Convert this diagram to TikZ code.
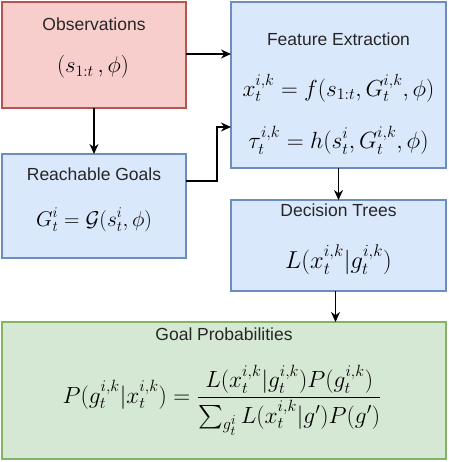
\documentclass[tikz,border=0pt]{standalone}
\usepackage{amsmath}
\usepackage{graphicx}
\usepackage{fontspec}
\setmainfont{Liberation Sans}
\usetikzlibrary{arrows.meta,calc}
\definecolor{pinkfill}{HTML}{F8CECC}
\definecolor{pinkdraw}{HTML}{B85450}
\definecolor{bluefill}{HTML}{DAE8FC}
\definecolor{bluedraw}{HTML}{6C8EBF}
\definecolor{greenfill}{HTML}{D5E8D4}
\definecolor{greendraw}{HTML}{82B366}
\newcommand{\eqbox}[2]{\scalebox{#1}{$\displaystyle #2$}}
\tikzset{
  box/.style={draw, line width=1.2pt, inner sep=0pt, outer sep=0pt},
  pinkbox/.style={box, fill=pinkfill, draw=pinkdraw},
  bluebox/.style={box, fill=bluefill, draw=bluedraw},
  greenbox/.style={box, fill=greenfill, draw=greendraw},
  title/.style={inner sep=0pt, font=\fontsize{17.5}{20}\selectfont, text=black!85},
  eq/.style={inner sep=0pt, font=\fontsize{20.74}{25}\selectfont},
  arr/.style={line width=1.5pt, -{Stealth[length=10pt,width=9pt]}},
}
\begin{document}
\begin{tikzpicture}[x=1pt,y=-1pt]
\useasboundingbox (0,0) rectangle (448,462);
% boxes
\node[pinkbox, minimum width=184pt, minimum height=106pt] (obs) at (94,55) {};
\node[bluebox, minimum width=184pt, minimum height=104pt] (rg) at (94,206) {};
\node[bluebox, minimum width=215pt, minimum height=166pt] (fe) at (338.5,85) {};
\node[bluebox, minimum width=215pt, minimum height=91pt] (dt) at (338.5,245.5) {};
\node[greenbox, minimum width=444pt, minimum height=137pt] (gp) at (224,390.5) {};
% texts
\node[title] (obst) at (94,24) {Observations};
\node[eq] (obsm) at (93,67) {\eqbox{1.1}{(s_{1:t}\,,\phi)}};
\node[title] (rgt) at (94,174) {Reachable Goals};
\node[eq] (rgm) at (94,220) {\eqbox{1.03}{G_t^i=\mathcal{G}(s_t^i,\phi)}};
\node[title] (fet) at (338.5,39) {Feature Extraction};
\node[eq] (fem1) at (338.5,88) {\eqbox{1.12}{x_t^{i,k}=f(s_{1:t},G_t^{i,k},\phi)}};
\node[eq] (fem2) at (338.5,140) {\eqbox{1.13}{\tau_t^{i,k}=h(s_t^i,G_t^{i,k},\phi)}};
\node[title] (dtt) at (338.5,210) {Decision Trees};
\node[eq] (dtm) at (338.5,260) {\eqbox{1.18}{L(x_t^{i,k}|g_t^{i,k})}};
\node[title] (gpt) at (224,334) {Goal Probabilities};
\node[eq] (gpm) at (222,400) {\eqbox{1.13}{P(g_t^{i,k}|x_t^{i,k})=\frac{L(x_t^{i,k}|g_t^{i,k})P(g_t^{i,k})}{\textstyle\sum_{g_t^i}L(x_t^{i,k}|g')P(g')}}};
% connectors
\draw[arr] ([yshift=1pt]obs.east) -- ([yshift=1pt]obs.east -| fe.west);
\draw[arr] (obs.south) -- (rg.north);
\draw[arr] ([yshift=25pt]rg.east) -- ++(31,0) |- ([yshift=-42pt]fe.west);
\draw[arr] (fe.south) -- (dt.north);
\draw[arr] ([xshift=-3pt]dt.south) -- ([xshift=-3pt]dt.south |- gp.north);
\end{tikzpicture}
\end{document}
